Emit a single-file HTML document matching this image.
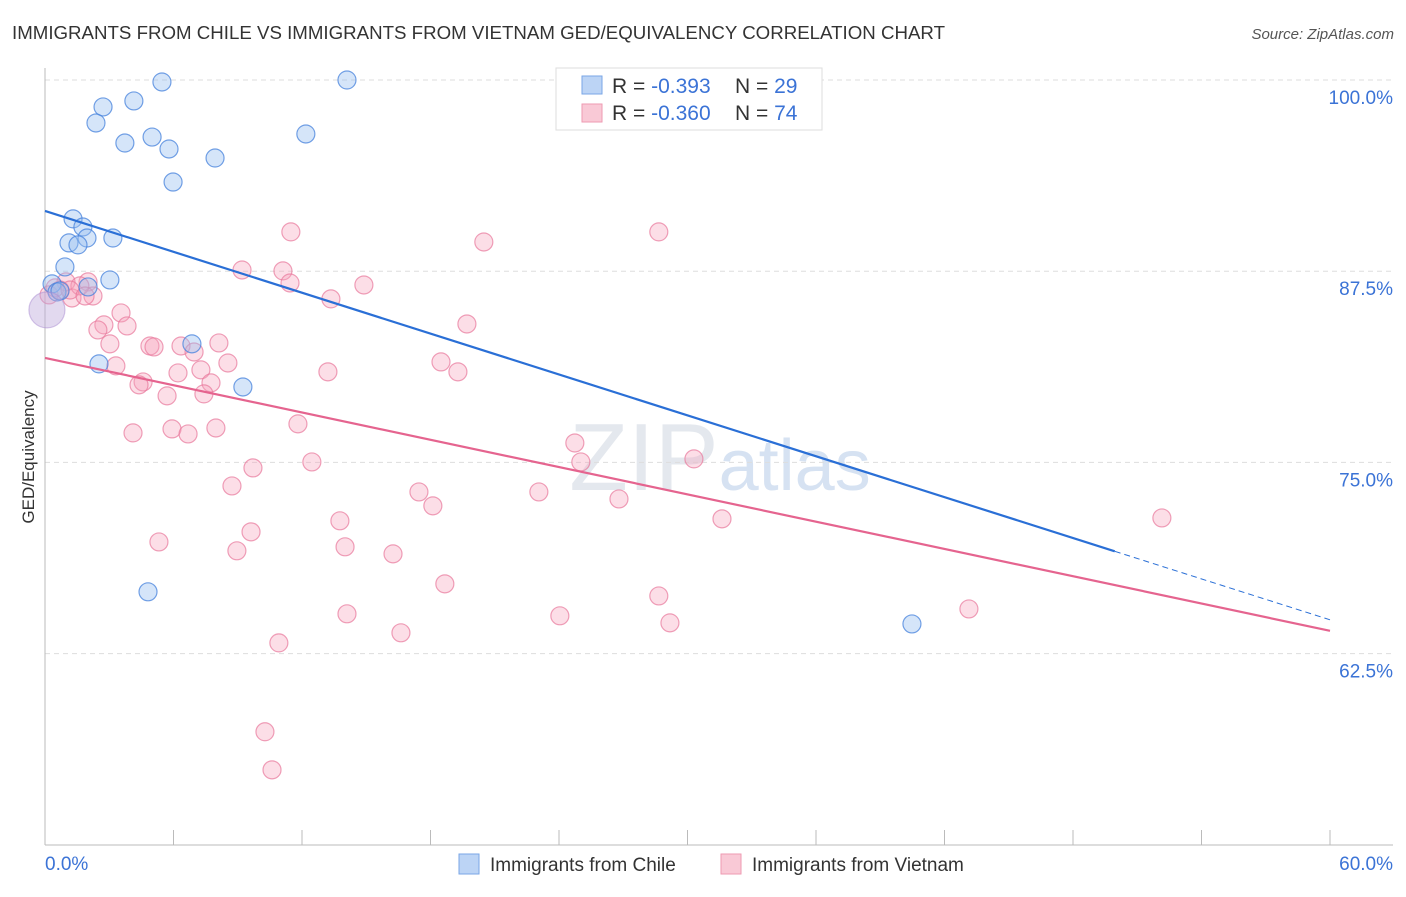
<!DOCTYPE html>
<html><head><meta charset="utf-8"><style>
body{margin:0;background:#fff;font-family:"Liberation Sans",sans-serif}
#wrap{position:relative;width:1406px;height:892px}
svg text{font-family:"Liberation Sans",sans-serif}
</style></head><body>
<div id="wrap">
<svg id="svg" width="1406" height="892">
<text x="12" y="39" font-size="18" fill="#333" textLength="933" lengthAdjust="spacingAndGlyphs">IMMIGRANTS FROM CHILE VS IMMIGRANTS FROM VIETNAM GED/EQUIVALENCY CORRELATION CHART</text>
<text x="1394" y="39" font-size="15" fill="#555" font-style="italic" text-anchor="end">Source: ZipAtlas.com</text>
<text x="720" y="490" font-size="96" fill="#e4e8ee" text-anchor="middle" font-family="Liberation Serif">ZIP<tspan fill="#d6e2f2" font-family="Liberation Sans" font-size="72">atlas</tspan></text>
<g id="grid"></g><g id="pts"></g><g id="lines"></g>
<text x="34" y="457" font-size="17" fill="#333" text-anchor="middle" transform="rotate(-90 34 457)">GED/Equivalency</text>
<text x="45" y="870" font-size="19" fill="#3b73d6">0.0%</text>
<text x="1393" y="870" font-size="19" fill="#3b73d6" text-anchor="end">60.0%</text>
<g>
<rect x="556" y="68" width="266" height="62" fill="#fff" stroke="#ddd"/>
<rect x="582" y="76" width="20" height="18" fill="#bcd4f5" stroke="#7aa6e6"/>
<rect x="582" y="104" width="20" height="18" fill="#f9c9d6" stroke="#ee9ab2"/>
<text x="612" y="93" font-size="21" fill="#333">R = <tspan fill="#3b73d6">-0.393</tspan><tspan x="735">N = </tspan><tspan fill="#3b73d6">29</tspan></text>
<text x="612" y="120" font-size="21" fill="#333">R = <tspan fill="#3b73d6">-0.360</tspan><tspan x="735">N = </tspan><tspan fill="#3b73d6">74</tspan></text>
</g>
<g>
<rect x="459" y="854" width="20" height="20" fill="#bcd4f5" stroke="#7aa6e6"/>
<text x="490" y="871" font-size="19" fill="#333">Immigrants from Chile</text>
<rect x="721" y="854" width="20" height="20" fill="#f9c9d6" stroke="#ee9ab2"/>
<text x="752" y="871" font-size="19" fill="#333">Immigrants from Vietnam</text>
</g>
</svg></div>
<script>
const yTicks=[100,87.5,75,62.5];
const yTickLabels=["100.0%","87.5%","75.0%","62.5%"];
const xTicks=[0,6,12,18,24,30,36,42,48,54,60];
const chileX=[5.46,14.10,4.15,2.71,2.38,5.00,3.73,5.79,12.18,7.94,5.98,1.31,1.77,1.96,1.12,1.54,3.17,0.93,3.03,0.33,0.56,0.70,2.01,6.86,2.52,9.24,4.81,40.48,0.09];
const chileY=[99.87,100,98.63,98.24,97.19,96.27,95.88,95.49,96.47,94.90,93.33,90.92,90.39,89.67,89.35,89.22,89.67,87.78,86.93,86.67,86.14,86.21,86.47,82.75,81.44,79.93,66.54,64.44,84.97];
const vietX=[11.48,20.49,28.66,9.20,11.11,11.44,14.89,13.35,0.98,2.01,2.24,1.26,0.70,1.63,0.19,19.70,3.55,2.75,3.83,2.47,3.03,4.90,5.09,6.35,8.12,6.96,8.54,3.31,6.21,7.28,18.49,19.28,13.21,4.58,4.39,7.75,5.70,7.42,4.11,5.93,6.68,7.98,11.81,12.46,9.71,8.73,17.46,18.11,23.06,24.74,25.02,30.30,26.80,31.61,52.15,13.77,9.62,5.32,8.96,14.01,16.25,18.67,28.66,24.04,29.18,43.14,14.10,16.62,10.92,10.27,10.60,0.47,1.17,1.87];
const vietY=[90.07,89.41,90.07,87.58,87.52,86.73,86.60,85.69,86.80,86.80,85.88,85.75,86.27,86.54,85.95,84.05,84.77,83.99,83.92,83.66,82.75,82.61,82.55,82.61,82.81,82.22,81.50,81.31,80.85,81.05,81.57,80.92,80.92,80.26,80.07,80.20,79.35,79.48,76.93,77.19,76.86,77.25,77.52,75.03,74.64,73.46,73.07,72.16,73.07,76.27,75.03,75.23,72.61,71.31,71.37,71.18,70.46,69.80,69.22,69.48,69.02,67.06,66.27,64.97,64.51,65.42,65.10,63.86,63.20,57.39,54.90,86.41,86.27,85.88];
const chileTrend=[91.44,64.71];
const vietTrend=[81.83,63.99];
const chileSolidEnd=49.95;
const NS="http://www.w3.org/2000/svg";
const xs=v=>45+v*(1285/60);
const ys=v=>80+(100-v)*(191.2/12.5);
function mk(t,a,p){const e=document.createElementNS(NS,t);for(const k in a)e.setAttribute(k,a[k]);p.appendChild(e);return e;}
const grid=document.getElementById('grid'),pts=document.getElementById('pts'),lines=document.getElementById('lines');
yTicks.forEach((t,i)=>{
 const l=mk('line',{x1:45,x2:1393,y1:ys(t),y2:ys(t),stroke:'#ddd','stroke-dasharray':'5,4'},grid);
 
 
 const tx=mk('text',{x:1393,y:ys(t)+24,'font-size':19,fill:'#3b73d6','text-anchor':'end'},grid);
 tx.textContent=yTickLabels[i];
 
 
});
const ax=mk('line',{x1:45,x2:1393,y1:845,y2:845,stroke:'#bbb'},grid);


const ay=mk('line',{x1:45,x2:45,y1:68,y2:845,stroke:'#bbb'},grid);


xTicks.forEach(t=>{
 const l=mk('line',{x1:xs(t),x2:xs(t),y1:830,y2:845,stroke:'#bbb'},grid);
 
 
});
vietX.forEach((v,i)=>{
 const c=mk('circle',{cx:xs(v),cy:ys(vietY[i]),r:9,fill:'rgba(245,160,185,0.35)',stroke:'rgba(232,120,155,0.7)','stroke-width':1.2},pts);
 
 
});
chileX.forEach((v,i)=>{
 const big=i==chileX.length-1;
 const c=mk('circle',{cx:xs(v),cy:ys(chileY[i]),r:big?18:9,fill:big?'rgba(190,170,220,0.45)':'rgba(150,190,240,0.4)',stroke:big?'rgba(170,140,210,0.5)':'rgba(70,130,220,0.75)','stroke-width':1.2},pts);
 
 
});
const cy=x=>chileTrend[0]+(chileTrend[1]-chileTrend[0])*x/60;
const vy=x=>vietTrend[0]+(vietTrend[1]-vietTrend[0])*x/60;
let l1=mk('line',{x1:xs(0),y1:ys(cy(0)),x2:xs(chileSolidEnd),y2:ys(cy(chileSolidEnd)),stroke:'#2a6fd6','stroke-width':2.2},lines);


let l2=mk('line',{x1:xs(chileSolidEnd),y1:ys(cy(chileSolidEnd)),x2:xs(60),y2:ys(cy(60)),stroke:'#2a6fd6','stroke-width':1,'stroke-dasharray':'6,4'},lines);


let l3=mk('line',{x1:xs(0),y1:ys(vy(0)),x2:xs(60),y2:ys(vy(60)),stroke:'#e5648f','stroke-width':2.2},lines);


</script>
</body></html>
